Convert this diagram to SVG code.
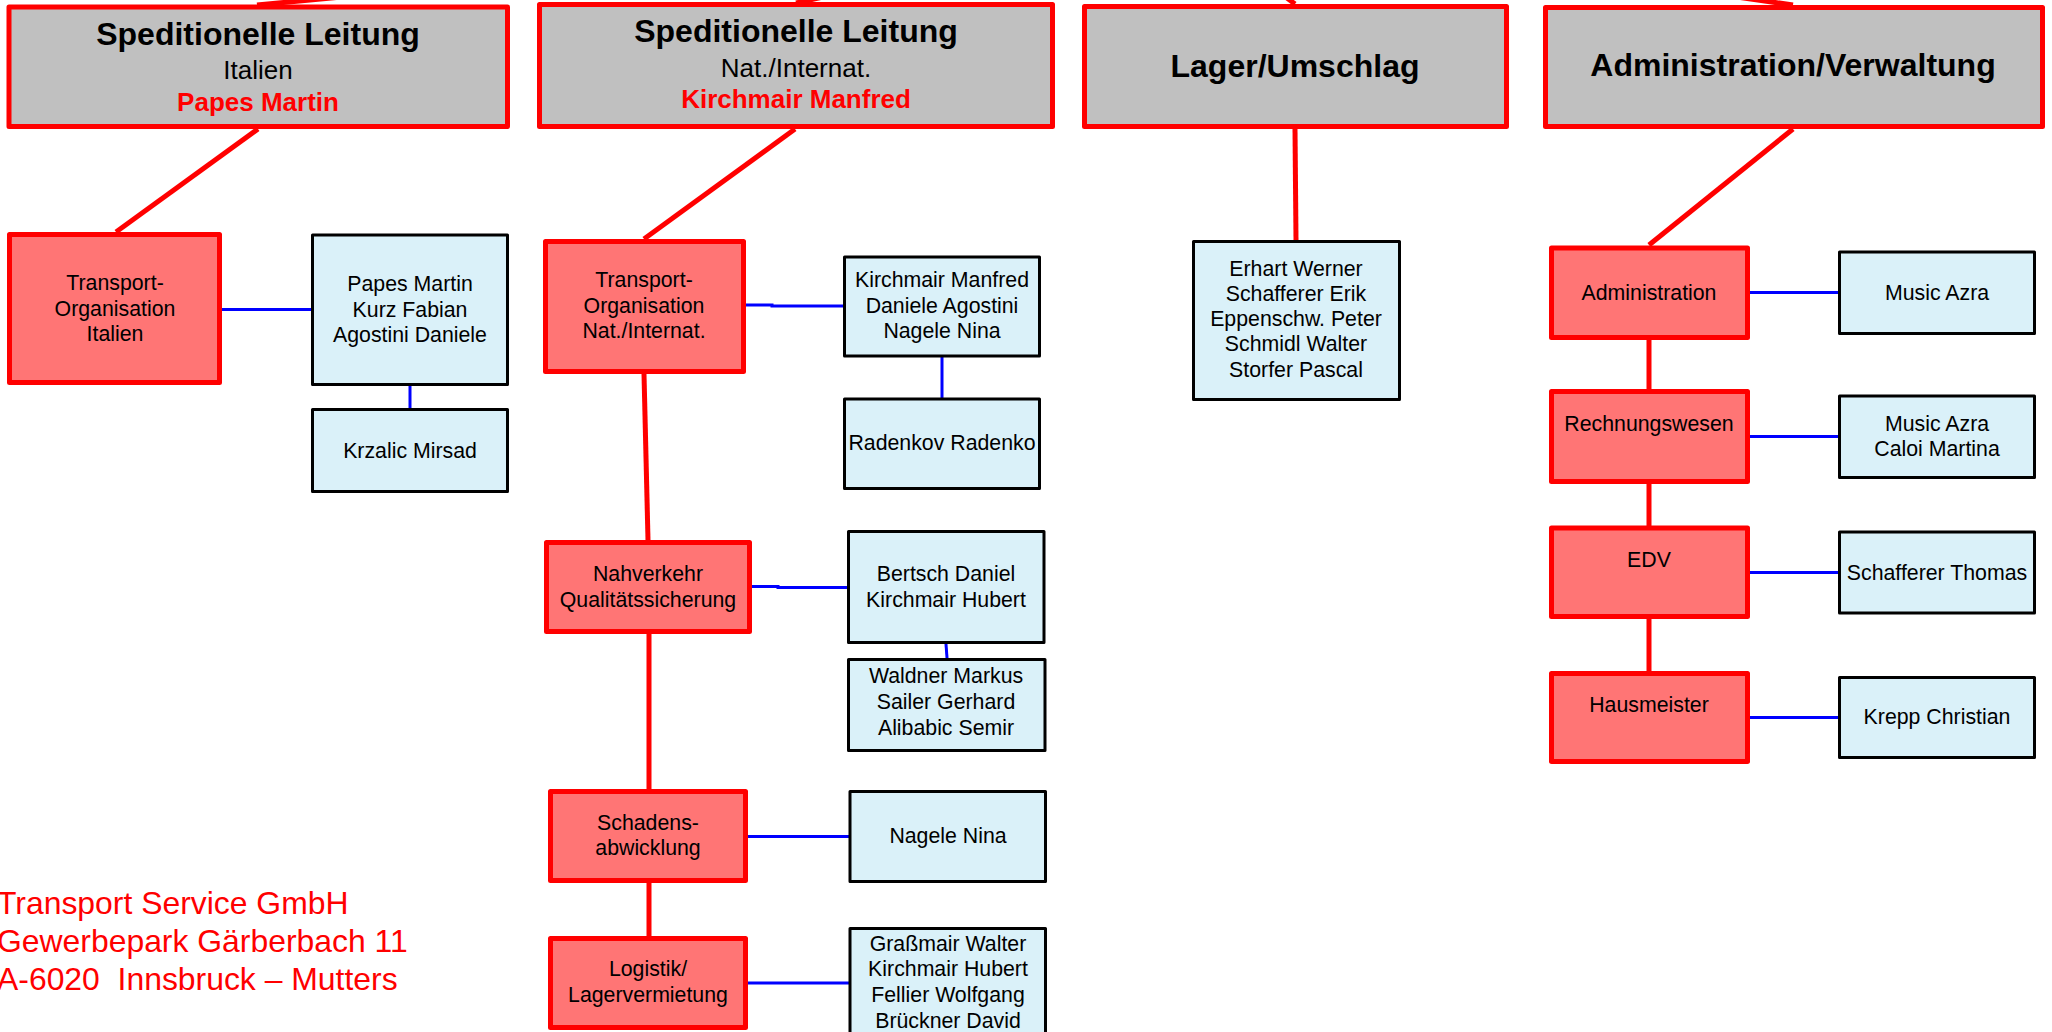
<svg xmlns="http://www.w3.org/2000/svg" width="2052" height="1032" viewBox="0 0 2052 1032">
<style>
text{font-family:"Liberation Sans",Arial,sans-serif;text-anchor:middle;fill:#000}
.top{fill:#C0C0C0;stroke:#FF0000;stroke-width:5;stroke-linejoin:round}
.unit{fill:#FF7575;stroke:#FF0000;stroke-width:5;stroke-linejoin:round}
.staff{fill:#DAF1F9;stroke:#000;stroke-width:3;stroke-linejoin:round}
.h1{font-size:32px;font-weight:bold}
.h2{font-size:26px}
.h3{font-size:26px;font-weight:bold;fill:#FF0000}
.t{font-size:21.3px}
.addr{font-size:31.9px;fill:#FF0000;text-anchor:start}
.red{stroke:#FF0000;stroke-width:5;fill:none}
.blue{stroke:#0000FF;stroke-width:3;fill:none}
</style>
<rect width="2052" height="1032" fill="#FFFFFF"/>
<g id="connectors">
<line class="red" x1="257" y1="5" x2="1180" y2="-82"/>
<line class="red" x1="796" y1="3" x2="1180" y2="-82"/>
<line class="red" x1="1295" y1="4" x2="1180" y2="-82"/>
<line class="red" x1="1793" y1="5" x2="1180" y2="-82"/>
<line class="red" x1="258" y1="129" x2="116" y2="232"/>
<line class="red" x1="795" y1="129" x2="644" y2="239"/>
<line class="red" x1="1295" y1="129" x2="1296" y2="240"/>
<line class="red" x1="1793" y1="129" x2="1649" y2="245"/>
<line class="red" x1="644" y1="374" x2="648" y2="540"/>
<line class="red" x1="649" y1="634" x2="649" y2="789"/>
<line class="red" x1="649" y1="883" x2="649" y2="936"/>
<line class="red" x1="1649" y1="340" x2="1649" y2="389"/>
<line class="red" x1="1649" y1="484" x2="1649" y2="526"/>
<line class="red" x1="1649" y1="619" x2="1649" y2="671"/>
<line class="blue" x1="222" y1="309.5" x2="311" y2="309.5"/>
<line class="blue" x1="410" y1="386" x2="410" y2="409"/>
<polyline class="blue" points="746,305 772,305 772,306 843,306"/>
<line class="blue" x1="942" y1="357" x2="942" y2="398"/>
<polyline class="blue" points="752,586.5 778,586.5 778,587.5 847,587.5"/>
<line class="blue" x1="946" y1="644" x2="947" y2="658"/>
<line class="blue" x1="748" y1="836.5" x2="849" y2="836.5"/>
<line class="blue" x1="748" y1="983" x2="849" y2="983"/>
<line class="blue" x1="1750" y1="292.5" x2="1838" y2="292.5"/>
<line class="blue" x1="1750" y1="436.5" x2="1838" y2="436.5"/>
<line class="blue" x1="1750" y1="572.5" x2="1838" y2="572.5"/>
<line class="blue" x1="1750" y1="717.5" x2="1838" y2="717.5"/>
</g>
<g id="top-italien">
<rect class="top" x="9" y="7" width="498.5" height="119.5"/>
<text class="h1" x="258" y="45">Speditionelle Leitung</text>
<text class="h2" x="258" y="79">Italien</text>
<text class="h3" x="258" y="111">Papes Martin</text>
</g>
<g id="top-national">
<rect class="top" x="539.5" y="4.5" width="513" height="122"/>
<text class="h1" x="796" y="42">Speditionelle Leitung</text>
<text class="h2" x="796" y="77">Nat./Internat.</text>
<text class="h3" x="796" y="108">Kirchmair Manfred</text>
</g>
<g id="top-lager">
<rect class="top" x="1084.5" y="6.5" width="422" height="120"/>
<text class="h1" x="1295" y="77">Lager/Umschlag</text>
</g>
<g id="top-admin">
<rect class="top" x="1545.5" y="7.5" width="497" height="119"/>
<text class="h1" x="1793" y="76">Administration/Verwaltung</text>
</g>
<g id="unit-transport-italien">
<rect class="unit" x="9.5" y="234.5" width="210" height="148"/>
<text class="t" x="115" y="290">Transport-</text>
<text class="t" x="115" y="315.5">Organisation</text>
<text class="t" x="115" y="341">Italien</text>
</g>
<g id="staff-italien">
<rect class="staff" x="312.5" y="235" width="195" height="149.5"/>
<text class="t" x="410" y="291">Papes Martin</text>
<text class="t" x="410" y="316.5">Kurz Fabian</text>
<text class="t" x="410" y="342">Agostini Daniele</text>
</g>
<g id="staff-krzalic">
<rect class="staff" x="312.5" y="409.5" width="195" height="82"/>
<text class="t" x="410" y="458">Krzalic Mirsad</text>
</g>
<g id="unit-transport-national">
<rect class="unit" x="545.5" y="241.5" width="198" height="130"/>
<text class="t" x="644" y="287">Transport-</text>
<text class="t" x="644" y="312.5">Organisation</text>
<text class="t" x="644" y="338">Nat./Internat.</text>
</g>
<g id="staff-national">
<rect class="staff" x="844.5" y="257" width="195" height="99"/>
<text class="t" x="942" y="287">Kirchmair Manfred</text>
<text class="t" x="942" y="312.5">Daniele Agostini</text>
<text class="t" x="942" y="338">Nagele Nina</text>
</g>
<g id="staff-radenkov">
<rect class="staff" x="844.5" y="399" width="195" height="89.5"/>
<text class="t" x="942" y="450">Radenkov Radenko</text>
</g>
<g id="unit-nahverkehr">
<rect class="unit" x="546.5" y="542.5" width="203" height="89"/>
<text class="t" x="648" y="581">Nahverkehr</text>
<text class="t" x="648" y="606.5">Qualitätssicherung</text>
</g>
<g id="staff-nahverkehr">
<rect class="staff" x="848.5" y="531.5" width="195.5" height="111"/>
<text class="t" x="946" y="581">Bertsch Daniel</text>
<text class="t" x="946" y="606.5">Kirchmair Hubert</text>
</g>
<g id="staff-waldner">
<rect class="staff" x="848.5" y="659.5" width="196.5" height="91"/>
<text class="t" x="946" y="683">Waldner Markus</text>
<text class="t" x="946" y="709">Sailer Gerhard</text>
<text class="t" x="946" y="734.5">Alibabic Semir</text>
</g>
<g id="unit-schaden">
<rect class="unit" x="550.5" y="791.5" width="195" height="89"/>
<text class="t" x="648" y="829.5">Schadens-</text>
<text class="t" x="648" y="855">abwicklung</text>
</g>
<g id="staff-schaden">
<rect class="staff" x="850" y="791.5" width="195.5" height="90"/>
<text class="t" x="948" y="843">Nagele Nina</text>
</g>
<g id="unit-logistik">
<rect class="unit" x="550.5" y="938.5" width="195" height="89"/>
<text class="t" x="648" y="976">Logistik/</text>
<text class="t" x="648" y="1002">Lagervermietung</text>
</g>
<g id="staff-logistik">
<rect class="staff" x="850" y="928.5" width="195.5" height="120"/>
<text class="t" x="948" y="951">Graßmair Walter</text>
<text class="t" x="948" y="976">Kirchmair Hubert</text>
<text class="t" x="948" y="1002">Fellier Wolfgang</text>
<text class="t" x="948" y="1028">Brückner David</text>
</g>
<g id="staff-lager">
<rect class="staff" x="1193.5" y="241.5" width="206" height="158"/>
<text class="t" x="1296" y="275.5">Erhart Werner</text>
<text class="t" x="1296" y="300.8">Schafferer Erik</text>
<text class="t" x="1296" y="326">Eppenschw. Peter</text>
<text class="t" x="1296" y="351.3">Schmidl Walter</text>
<text class="t" x="1296" y="376.6">Storfer Pascal</text>
</g>
<g id="unit-administration">
<rect class="unit" x="1551.5" y="248" width="196" height="89.5"/>
<text class="t" x="1649" y="300">Administration</text>
</g>
<g id="staff-administration">
<rect class="staff" x="1839.5" y="252" width="195" height="81.5"/>
<text class="t" x="1937" y="300">Music Azra</text>
</g>
<g id="unit-rechnungswesen">
<rect class="unit" x="1551.5" y="391.5" width="196" height="90"/>
<text class="t" x="1649" y="430.5">Rechnungswesen</text>
</g>
<g id="staff-rechnungswesen">
<rect class="staff" x="1839.5" y="396" width="195" height="81.5"/>
<text class="t" x="1937" y="430.5">Music Azra</text>
<text class="t" x="1937" y="455.5">Caloi Martina</text>
</g>
<g id="unit-edv">
<rect class="unit" x="1551.5" y="528" width="196" height="88.5"/>
<text class="t" x="1649" y="566.5">EDV</text>
</g>
<g id="staff-edv">
<rect class="staff" x="1839.5" y="532" width="195" height="81"/>
<text class="t" x="1937" y="579.5">Schafferer Thomas</text>
</g>
<g id="unit-hausmeister">
<rect class="unit" x="1551.5" y="673.5" width="196" height="88"/>
<text class="t" x="1649" y="711.5">Hausmeister</text>
</g>
<g id="staff-hausmeister">
<rect class="staff" x="1839.5" y="677.5" width="195" height="80"/>
<text class="t" x="1937" y="724">Krepp Christian</text>
</g>
<g id="address">
<text class="addr" x="-3" y="913.5">Transport Service GmbH</text>
<text class="addr" x="-3" y="951.5">Gewerbepark Gärberbach 11</text>
<text class="addr" x="-3" y="989.5">A-6020&#160; Innsbruck – Mutters</text>
</g>
</svg>
